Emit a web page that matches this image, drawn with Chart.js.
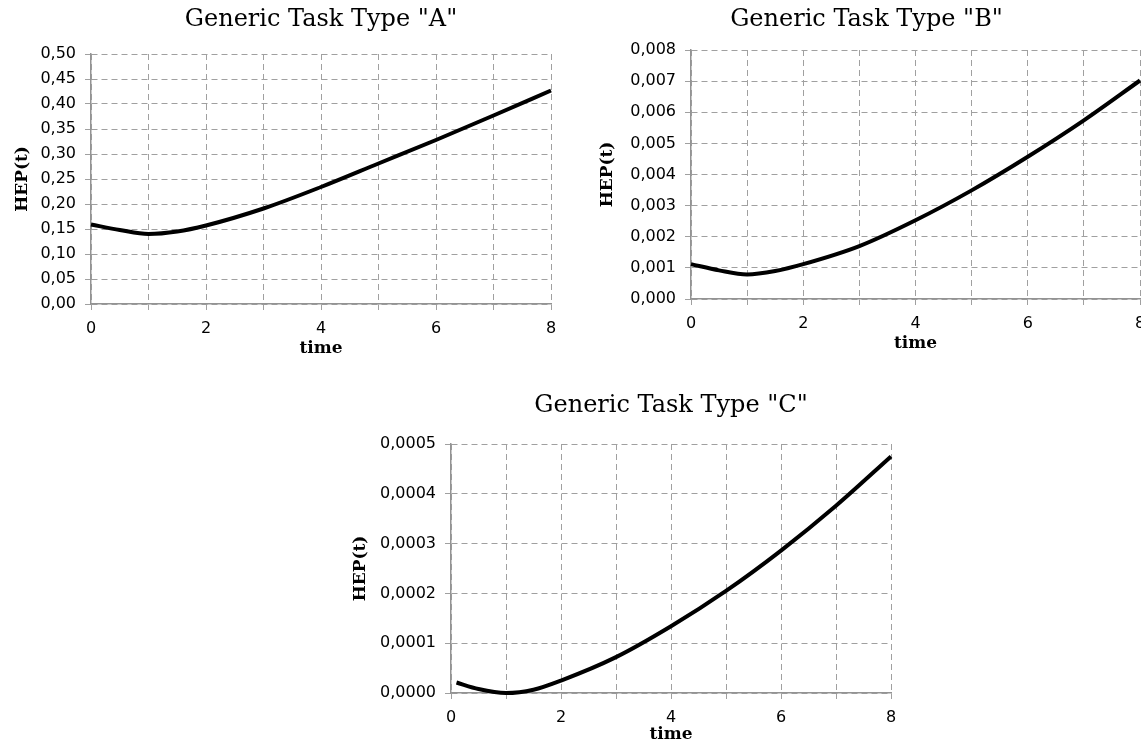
<!DOCTYPE html>
<html>
<head>
<meta charset="utf-8">
<script src="https://cdn.jsdelivr.net/npm/chart.js@4.4.1/dist/chart.umd.min.js"></script>
<style>
  html, body { margin: 0; padding: 0; background: #fff; overflow: hidden; }
  body { width: 1141px; height: 749px; position: relative; }
  .box { position: absolute; }
  #boxA { left: 0px; top: 0px; width: 632px; height: 363px; }
  #boxB { left: 580px; top: 0px; width: 580px; height: 358px; }
  #boxC { left: 340px; top: 380px; width: 664px; height: 369px; }
</style>
</head>
<body>
<div class="box" id="boxA"><canvas id="chartA"></canvas></div>
<div class="box" id="boxB"><canvas id="chartB"></canvas></div>
<div class="box" id="boxC"><canvas id="chartC"></canvas></div>
<script>
// values
const timeA = [0, 0.5, 1, 1.5, 2, 3, 4, 5, 6, 7, 8];
const hepA = [0.159, 0.148, 0.140, 0.145, 0.157, 0.191, 0.234, 0.281, 0.328, 0.377, 0.427];

const timeB = [0, 0.5, 1, 1.5, 2, 3, 4, 5, 6, 7, 8];
const hepB = [0.00112, 0.00092, 0.00079, 0.00090, 0.00112, 0.0017, 0.00253, 0.00349, 0.00457, 0.00574, 0.00702];

const timeC = [0.1, 0.5, 1, 1.5, 2, 3, 4, 5, 6, 7, 8];
const hepC = [0.000021, 0.000008, 0.0, 0.0000066, 0.000025, 0.000072, 0.000134, 0.000205, 0.000286, 0.000376, 0.000475];

// tick values and labels
const xTickVals = [0, 1, 2, 3, 4, 5, 6, 7, 8];
const xTickLabels = ['0', '', '2', '', '4', '', '6', '', '8'];

const yTickValsA = [0, 0.05, 0.10, 0.15, 0.20, 0.25, 0.30, 0.35, 0.40, 0.45, 0.50];
const yTickLabelsA = ['0,00', '0,05', '0,10', '0,15', '0,20', '0,25', '0,30', '0,35', '0,40', '0,45', '0,50'];

const yTickValsB = [0, 0.001, 0.002, 0.003, 0.004, 0.005, 0.006, 0.007, 0.008];
const yTickLabelsB = ['0,000', '0,001', '0,002', '0,003', '0,004', '0,005', '0,006', '0,007', '0,008'];

const yTickValsC = [0, 0.0001, 0.0002, 0.0003, 0.0004, 0.0005];
const yTickLabelsC = ['0,0000', '0,0001', '0,0002', '0,0003', '0,0004', '0,0005'];

const titles = ['Generic Task Type "A"', 'Generic Task Type "B"', 'Generic Task Type "C"'];

const gridColor = '#a0a0a0';
const axisColor = '#939393';
const tickFont = { family: 'DejaVu Sans', size: 16 };
const labelFont = { family: 'DejaVu Serif', size: 17, weight: 'bold' };

function makeChart(el, title, xs, ys, yVals, yLabels, lay) {
    const points = xs.map((x, i) => ({ x: x, y: ys[i] }));
    return new Chart(el, {
        type: 'line',
        data: {
            datasets: [{
                label: title,
                data: points,
                borderColor: '#000',
                borderWidth: 4,
                pointRadius: 0,
                cubicInterpolationMode: 'monotone',
                fill: false,
                clip: 4
            }]
        },
        options: {
            responsive: true,
            maintainAspectRatio: false,
            animation: false,
            layout: {
                padding: { left: lay.padL, right: lay.padR, top: 0, bottom: 0 }
            },
            plugins: {
                legend: { display: false },
                tooltip: { enabled: false },
                title: {
                    display: true,
                    text: title,
                    color: '#000',
                    fullSize: lay.fullTitle,
                    font: { family: 'DejaVu Serif', size: 24, weight: 'normal' },
                    padding: { top: lay.titleTop, bottom: lay.titleBottom }
                }
            },
            scales: {
                x: {
                    type: 'linear',
                    min: 0,
                    max: 8,
                    afterBuildTicks: (s) => { s.ticks = xTickVals.map(v => ({ value: v })); },
                    afterFit: (s) => { s.height = lay.xH; },
                    ticks: {
                        color: '#000',
                        font: tickFont,
                        padding: 9,
                        maxRotation: 0,
                        autoSkip: false,
                        callback: (v, i) => xTickLabels[i]
                    },
                    grid: { color: gridColor, lineWidth: 1, tickLength: 6 },
                    border: { color: axisColor, width: 1.5, dash: [6, 4] },
                    title: { display: true, text: 'time', color: '#000', font: labelFont, padding: { top: 0, bottom: 4 } }
                },
                y: {
                    min: yVals[0],
                    max: yVals[yVals.length - 1],
                    afterBuildTicks: (s) => { s.ticks = yVals.map(v => ({ value: v })); },
                    afterFit: (s) => { s.width = lay.yW; },
                    ticks: {
                        color: '#000',
                        font: tickFont,
                        padding: 9,
                        autoSkip: false,
                        callback: (v, i) => yLabels[i]
                    },
                    grid: { color: gridColor, lineWidth: 1, tickLength: 6 },
                    border: { color: axisColor, width: 1.5, dash: [6, 4] },
                    title: { display: true, text: 'HEP(t)', color: '#000', font: labelFont, padding: { top: 4, bottom: 0 } }
                }
            }
        }
    });
}

makeChart(document.getElementById('chartA'), titles[0], timeA, hepA, yTickValsA, yTickLabelsA,
    { padL: 8, padR: 81, yW: 83, xH: 59, titleTop: 5.6, titleBottom: 19.6, fullTitle: false });
makeChart(document.getElementById('chartB'), titles[1], timeB, hepB, yTickValsB, yTickLabelsB,
    { padL: 13, padR: 20, yW: 98, xH: 59, titleTop: 5.6, titleBottom: 15.6, fullTitle: true });
makeChart(document.getElementById('chartC'), titles[2], timeC, hepC, yTickValsC, yTickLabelsC,
    { padL: 6, padR: 113, yW: 105, xH: 56, titleTop: 11.6, titleBottom: 23.6, fullTitle: false });
</script>
</body>
</html>
